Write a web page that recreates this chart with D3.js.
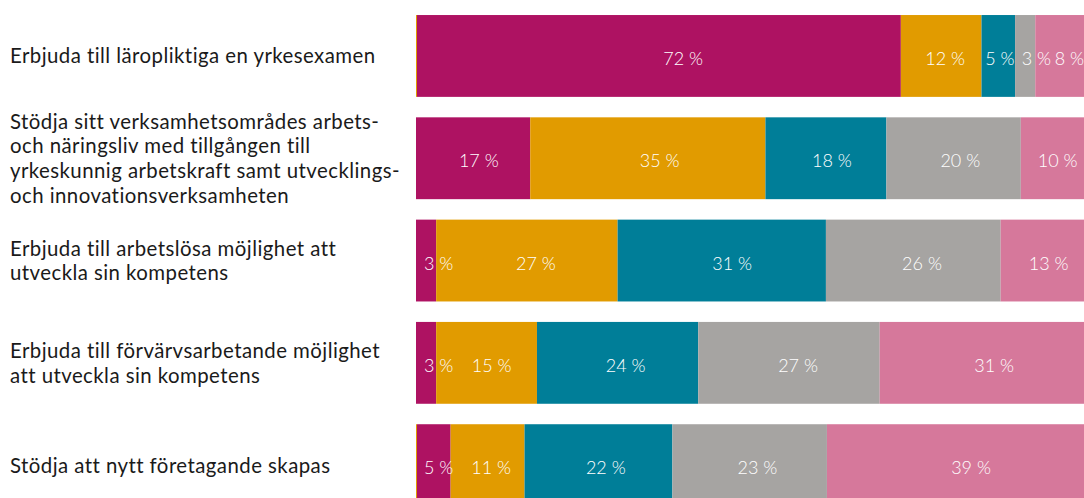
<!DOCTYPE html>
<html>
<head>
<meta charset="utf-8">
<script src="https://cdn.jsdelivr.net/npm/d3@7"></script>
<style>
  body { margin: 0; background: #fff; }
  svg { display: block; }
  text { font-family: Lato, "Noto Sans", sans-serif; }
</style>
</head>
<body>
<svg id="chart"></svg>
<script>
// categories (line breaks as in the picture)
const categories = [
  "Erbjuda till läropliktiga en yrkesexamen",
  "Stödja sitt verksamhetsområdes arbets-\noch näringsliv med tillgången till\nyrkeskunnig arbetskraft samt utvecklings-\noch innovationsverksamheten",
  "Erbjuda till arbetslösa möjlighet att\nutveckla sin kompetens",
  "Erbjuda till förvärvsarbetande möjlighet\natt utveckla sin kompetens",
  "Stödja att nytt företagande skapas"
];

// shares in percent, one array per series
const edge    = [0.15, 0, 0, 0, 0.15];   // thin orange sliver at the left edge
const serie1  = [72, 17,  3,  3,  5];
const serie2  = [12, 35, 27, 15, 11];
const serie3  = [ 5, 18, 31, 24, 22];
const serie4  = [ 3, 20, 26, 27, 23];
const serie5  = [ 8, 10, 13, 31, 39];

const keys = ["edge", "s1", "s2", "s3", "s4", "s5"];
const colors = {
  edge: "#e19b00",
  s1: "#ae1262",
  s2: "#e19b00",
  s3: "#007e98",
  s4: "#a6a4a2",
  s5: "#d6789b"
};

const rows = categories.map((c, i) => ({
  cat: c,
  edge: edge[i],
  s1: serie1[i],
  s2: serie2[i],
  s3: serie3[i],
  s4: serie4[i],
  s5: serie5[i]
}));

const width = 1084, height = 498;
const left = 416, right = 1088;

const svg = d3.select("#chart")
  .attr("width", width)
  .attr("height", height);

const x = d3.scaleLinear()
  .domain([0, 100])
  .range([left, right]);

const y = d3.scaleBand()
  .domain(categories)
  .range([4.8, 516.3])
  .paddingInner(0.2)
  .paddingOuter(0.1);

const stack = d3.stack().keys(keys)(rows);

// bars
const layers = svg.append("g")
  .selectAll("g")
  .data(stack)
  .enter()
  .append("g")
  .attr("fill", d => colors[d.key]);

layers.selectAll("rect")
  .data(d => d)
  .enter()
  .append("rect")
  .attr("x", d => x(d[0]))
  .attr("y", d => y(d.data.cat))
  .attr("width", d => Math.max(0, x(d[1]) - x(d[0])))
  .attr("height", y.bandwidth());

// value labels, pushed right when they would collide
const labels = svg.append("g")
  .attr("font-size", 18)
  .attr("font-weight", 300)
  .attr("fill", "#fff")
  .attr("text-anchor", "middle");

const labelled = stack.filter(s => s.key !== "edge");
rows.forEach((row, i) => {
  let prevRight = left + 8;
  labelled.forEach(s => {
    const d = s[i];
    const x0 = x(d[0]), w = x(d[1]) - x(d[0]);
    const t = labels.append("text")
      .attr("y", y(row.cat) + y.bandwidth() / 2)
      .attr("dy", "0.5em")
      .text(row[s.key] + " %");
    const len = t.node().getComputedTextLength();
    let cx = x0 + w * 0.55;
    if (cx - len / 2 < prevRight) cx = prevRight + len / 2;
    if (cx + len / 2 > width) cx = width - len / 2;
    t.attr("x", cx);
    prevRight = cx + len / 2 + 7;
  });
});

// category axis
const lh = 1.21;
svg.append("g")
  .attr("transform", "translate(" + left + ",0)")
  .call(d3.axisLeft(y).tickSize(0))
  .call(g => g.select(".domain").remove())
  .selectAll(".tick text")
  .attr("font-size", 20.4)
  .attr("letter-spacing", 0.45)
  .attr("fill", "#1a1a1a")
  .attr("text-anchor", "start")
  .each(function(d) {
    const lines = d.split("\n");
    const el = d3.select(this).text(null).attr("dy", null);
    lines.forEach((ln, i) => {
      el.append("tspan")
        .attr("x", 10 - left)
        .attr("dy", i === 0 ? (-(lines.length - 1) / 2 * lh + 0.36) + "em" : lh + "em")
        .text(ln);
    });
  });
</script>
</body>
</html>
